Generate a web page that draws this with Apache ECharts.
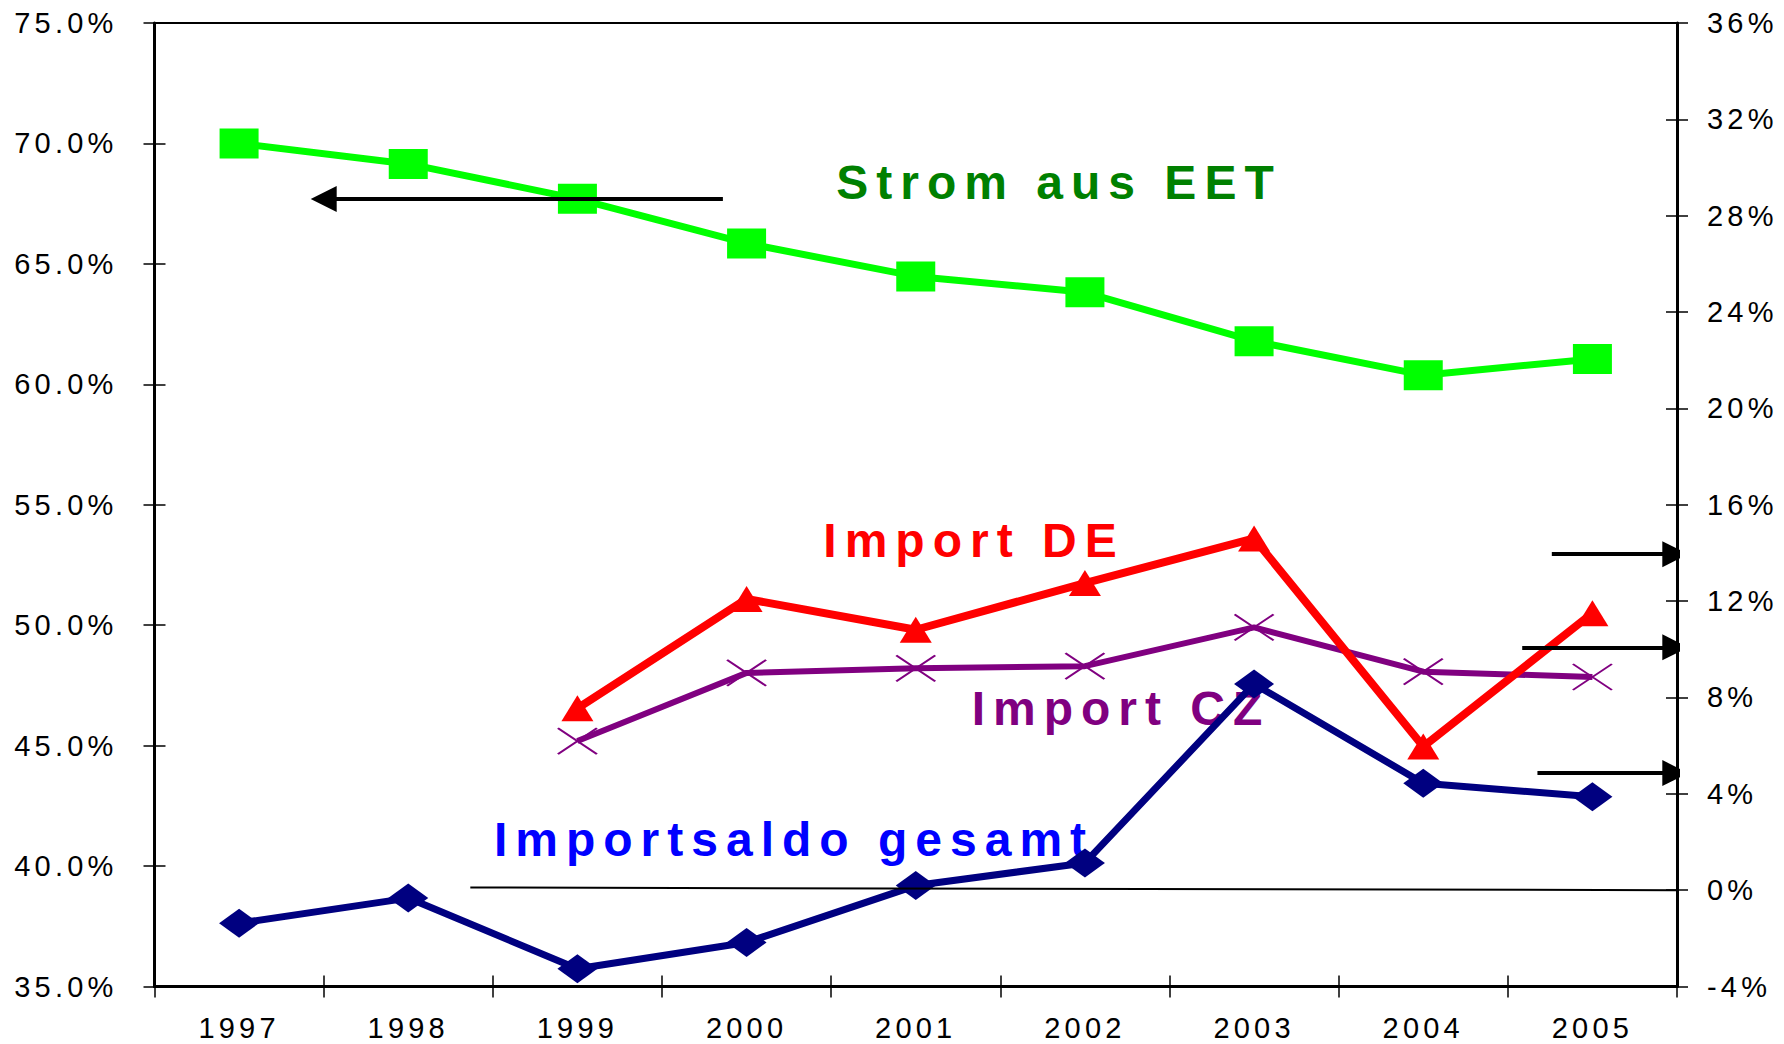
<!DOCTYPE html>
<html>
<head>
<meta charset="utf-8">
<title>Strom aus EET / Importe</title>
<script src="https://cdn.jsdelivr.net/npm/echarts@6/dist/echarts.min.js"></script>
<style>
    html, body { margin: 0; padding: 0; background: #fff; }
    #chart { width: 1784px; height: 1044px; }
    /* gesperrte Schrift wie im Excel-Original */
    #chart text, #chart tspan { letter-spacing: 4.2px; }
    #chart text[style*="bold"], #chart text[font-weight="bold"] { letter-spacing: 8px; }
</style>
</head>
<body>
<div id="chart"></div>
<script>
// Jahre (Kategorien)
var years = ['1997', '1998', '1999', '2000', '2001', '2002', '2003', '2004', '2005'];

// linke Achse: Anteil Strom aus EET (%)
var stromEET = [70.0, 69.15, 67.7, 65.85, 64.48, 63.82, 61.79, 60.38, 61.05];

// rechte Achse (%)
var importDE = [null, null, 7.55, 12.09, 10.81, 12.75, 14.6, 5.96, 11.5];
var importCZ = [null, null, 6.19, 9.02, 9.21, 9.3, 10.91, 9.07, 8.85];
var importSaldo = [-1.37, -0.33, -3.26, -2.17, 0.19, 1.13, 8.56, 4.44, 3.88];

// Pfeile: [Kategorie-Index, Wert] Anfang -> Ende
var arrowLeft = [[2.86, 67.69], [0.5, 67.69]];
var arrowsRight = [
    [[7.76, 13.95], [8.49, 13.95]],
    [[7.585, 10.08], [8.49, 10.08]],
    [[7.675, 4.86], [8.49, 4.86]]
];
var zeroLine = [[1.367, 0.11], [8.5, 0.0]];

var FONT = '"Liberation Sans", Arial, sans-serif';
var black = '#000';

var chart = echarts.init(document.getElementById('chart'), null, { renderer: 'svg' });

function tickStyle(inside) {
    return { show: true, inside: inside, length: 11, interval: 0, lineStyle: { color: black, width: 1.5 } };
}

function lineSeries(name, data, yIdx, color, width, symbol, size) {
    return {
        name: name,
        type: 'line',
        xAxisIndex: 0,
        yAxisIndex: yIdx,
        data: data,
        symbol: symbol,
        symbolSize: size,
        showSymbol: true,
        lineStyle: { color: color, width: width },
        itemStyle: { color: color, borderColor: color, borderWidth: 0 },
        emphasis: { disabled: true }
    };
}

var czSeries = lineSeries('Import CZ', importCZ, 1, '#800080', 6, 'path://M0,0L10,10M10,0L0,10', [39, 26]);
czSeries.itemStyle.borderWidth = 2;

var option = {
    animation: false,
    backgroundColor: '#fff',
    grid: {
        left: 154.5, right: 107, top: 23, bottom: 57.5,
        show: true, borderColor: black, borderWidth: 2, backgroundColor: 'transparent'
    },
    xAxis: [
        {
            type: 'category',
            data: years,
            position: 'bottom',
            boundaryGap: true,
            axisLine: { onZero: false, lineStyle: { color: black, width: 3 } },
            axisTick: tickStyle(false),
            axisLabel: { interval: 0, margin: 27, color: black, fontSize: 29, fontFamily: FONT },
            splitLine: { show: false }
        },
        { type: 'value', min: -0.5, max: 8.5, show: false },
        {
            type: 'category',
            data: years,
            position: 'bottom',
            axisLine: { show: false, onZero: false },
            axisTick: tickStyle(true),
            axisLabel: { show: false },
            splitLine: { show: false }
        }
    ],
    yAxis: [
        {
            type: 'value', position: 'left', min: 35, max: 75, interval: 5,
            axisLine: { show: true, onZero: false, lineStyle: { color: black, width: 3 } },
            axisTick: tickStyle(false),
            axisLabel: {
                margin: 37, color: black, fontSize: 29, fontFamily: FONT,
                formatter: function (v) { return v.toFixed(1) + '%'; }
            },
            splitLine: { show: false }
        },
        {
            type: 'value', position: 'right', min: -4, max: 36, interval: 4,
            axisLine: { show: true, onZero: false, lineStyle: { color: black, width: 3 } },
            axisTick: tickStyle(false),
            axisLabel: {
                margin: 30, color: black, fontSize: 29, fontFamily: FONT,
                formatter: function (v) { return v + '%'; }
            },
            splitLine: { show: false }
        },
        {
            type: 'value', position: 'left', min: 35, max: 75, interval: 5,
            axisLine: { show: false, onZero: false },
            axisTick: tickStyle(true),
            axisLabel: { show: false },
            splitLine: { show: false }
        },
        {
            type: 'value', position: 'right', min: -4, max: 36, interval: 4,
            axisLine: { show: false, onZero: false },
            axisTick: tickStyle(true),
            axisLabel: { show: false },
            splitLine: { show: false }
        }
    ],
    graphic: [
        { type: 'text', x: 1059, y: 182, z: 1, style: { text: 'Strom aus EET', fill: '#008000', font: 'bold 48px ' + FONT, align: 'center', verticalAlign: 'middle' } },
        { type: 'text', x: 974, y: 540, z: 1, style: { text: 'Import DE', fill: '#ff0000', font: 'bold 48px ' + FONT, align: 'center', verticalAlign: 'middle' } },
        { type: 'text', x: 1121, y: 708, z: 1, style: { text: 'Import CZ', fill: '#800080', font: 'bold 48px ' + FONT, align: 'center', verticalAlign: 'middle' } },
        { type: 'text', x: 794, y: 839, z: 1, style: { text: 'Importsaldo gesamt', fill: '#0000ff', font: 'bold 48px ' + FONT, align: 'center', verticalAlign: 'middle' } }
    ],
    series: [
        lineSeries('Importsaldo gesamt', importSaldo, 1, '#000080', 7, 'diamond', [40, 29]),
        czSeries,
        lineSeries('Import DE', importDE, 1, '#ff0000', 8, 'triangle', [32, 26]),
        lineSeries('Strom aus EET', stromEET, 0, '#00ff00', 7, 'rect', [39, 30]),
        {
            type: 'lines', coordinateSystem: 'cartesian2d', xAxisIndex: 1, yAxisIndex: 1, z: 5,
            symbol: 'none',
            lineStyle: { color: black, width: 2, opacity: 1 },
            data: [{ coords: zeroLine }]
        },
        {
            type: 'lines', coordinateSystem: 'cartesian2d', xAxisIndex: 1, yAxisIndex: 0, z: 5,
            symbol: ['none', 'triangle'], symbolSize: 26,
            lineStyle: { color: black, width: 4, opacity: 1 },
            data: [{ coords: arrowLeft }]
        },
        {
            type: 'lines', coordinateSystem: 'cartesian2d', xAxisIndex: 1, yAxisIndex: 1, z: 5,
            symbol: ['none', 'triangle'], symbolSize: 26,
            lineStyle: { color: black, width: 4, opacity: 1 },
            data: arrowsRight.map(function (c) { return { coords: c }; })
        }
    ]
};

chart.setOption(option);
</script>
</body>
</html>
